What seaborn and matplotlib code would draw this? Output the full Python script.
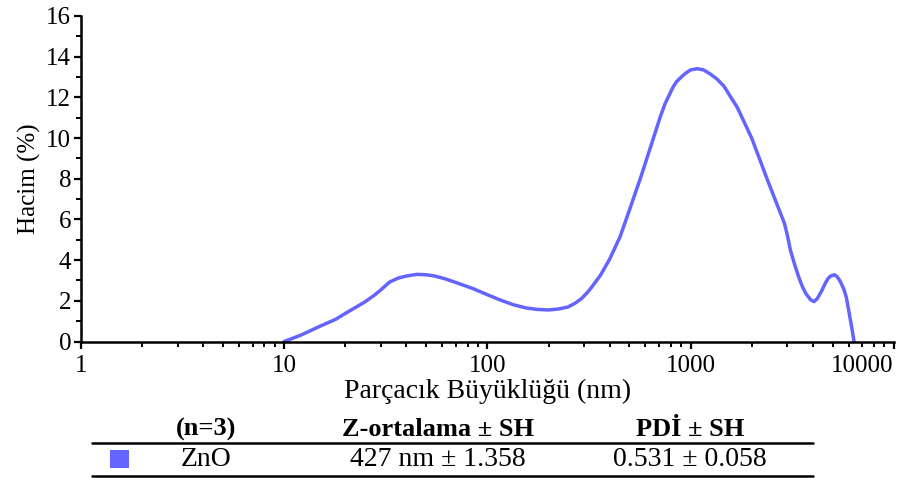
import matplotlib
matplotlib.use("Agg")
import matplotlib.pyplot as plt
from matplotlib.lines import Line2D
from matplotlib.patches import Rectangle
from matplotlib.ticker import LogLocator, FixedLocator, MultipleLocator
import numpy as np
import pandas as pd
import seaborn as sns

# Particle size distribution by volume (ZnO, n=3)
size_nm = [10, 12, 15, 18, 20, 25, 28, 30, 33, 36.5, 40, 45, 50, 55, 62, 70,
           85, 100, 115, 135, 155, 175, 200, 225, 250, 270, 290, 310, 325,
           360, 400, 450, 500, 570, 640, 710, 750, 780, 820, 850, 900, 950,
           1000, 1080, 1160, 1250, 1350, 1460, 1700, 2000, 2400, 2650, 2900,
           3000, 3100, 3250, 3400, 3550, 3700, 3900, 4050, 4200, 4400, 4600,
           4750, 4900, 5100, 5250, 5400, 5550, 5700, 5850, 6000, 6200, 6380]
volume_pct = [0.0, 0.3, 0.75, 1.1, 1.38, 1.95, 2.3, 2.55, 2.92, 3.12, 3.22,
              3.3, 3.28, 3.22, 3.08, 2.9, 2.6, 2.3, 2.05, 1.8, 1.65, 1.58,
              1.55, 1.6, 1.7, 1.88, 2.1, 2.4, 2.65, 3.25, 4.05, 5.15, 6.45,
              8.1, 9.65, 11.05, 11.7, 12.05, 12.5, 12.75, 13.0, 13.2, 13.35,
              13.41, 13.35, 13.15, 12.9, 12.55, 11.5, 10.0, 7.9, 6.8, 5.8, 5.2,
              4.5, 3.8, 3.2, 2.7, 2.35, 2.05, 1.96, 2.1, 2.45, 2.85, 3.1, 3.22,
              3.28, 3.2, 3.03, 2.8, 2.54, 2.15, 1.55, 0.75, 0.0]

x_ticks = [1, 10, 100, 1000, 10000]
x_tick_labels = ["1", "10", "100", "1000", "10000"]
y_ticks = [0, 2, 4, 6, 8, 10, 12, 14, 16]

table_header = ["(n=3)", "Z-ortalama ± SH", "PDİ ± SH"]
table_row = ["ZnO", "427 nm ± 1.358", "0.531 ± 0.058"]

line_color = "#6464FF"

sns.set_theme(style="ticks")
plt.rcParams["font.family"] = ["Liberation Serif", "DejaVu Serif"]

df = pd.DataFrame({"size": size_nm, "volume": volume_pct})

W, H = 901, 478
fig = plt.figure(figsize=(W / 100, H / 100), dpi=100)
ax = fig.add_axes([81 / W, 1 - 341.5 / H, (893.7 - 81) / W, (341.5 - 16) / H])

sns.lineplot(data=df, x="size", y="volume", ax=ax, color=line_color,
             linewidth=2.5, legend=False, sort=False)
for ln in ax.get_lines():
    ln.set_solid_joinstyle("round")
    ln.set_solid_capstyle("round")

ax.set_xscale("log")
ax.set_xlim(1, 10000)
ax.set_ylim(0, 16)

ax.xaxis.set_major_locator(FixedLocator(x_ticks))
ax.xaxis.set_minor_locator(LogLocator(base=10, subs=np.arange(2, 10)))
ax.set_xticks(x_ticks)
ax.set_xticklabels(x_tick_labels)
ax.set_yticks(y_ticks)
ax.yaxis.set_minor_locator(MultipleLocator(1))

for lbl in ax.get_xticklabels():
    if lbl.get_text() == "10000":
        lbl.set_horizontalalignment("right")

ax.tick_params(axis="x", which="major", pad=5)
ax.tick_params(axis="y", which="major", pad=2)
ax.tick_params(axis="both", which="major", direction="out", length=5,
               width=1.6, colors="black", labelsize=18)
ax.tick_params(axis="both", which="minor", direction="out", length=3.5,
               width=1.4, colors="black")

for side in ("top", "right"):
    ax.spines[side].set_visible(False)
for side in ("left", "bottom"):
    ax.spines[side].set_linewidth(1.8)
    ax.spines[side].set_color("black")

ax.set_xlabel("Parçacık Büyüklüğü (nm)", fontsize=20, labelpad=1, color="black")
ax.set_ylabel("Hacim (%)", fontsize=18, labelpad=4, color="black")
ax.set_facecolor("white")
fig.patch.set_facecolor("white")

# Summary table under the chart
def fy(py):
    return 1 - py / H

def fx(px):
    return px / W

col_x = [206, 438, 690]
for cx, txt in zip(col_x, table_header):
    fig.text(fx(cx), fy(429), txt, ha="center", va="center",
             fontsize=19, fontweight="bold", color="black")
for cx, txt in zip(col_x, table_row):
    fig.text(fx(cx), fy(459), txt, ha="center", va="center",
             fontsize=20, color="black")

for py in (442.5, 475.5):
    fig.add_artist(Line2D([fx(92), fx(813)], [fy(py), fy(py)],
                          transform=fig.transFigure, color="black",
                          linewidth=1.8))

fig.add_artist(Rectangle((fx(110), fy(467.5)), 19 / W, 18 / H,
                         transform=fig.transFigure, facecolor=line_color,
                         edgecolor="none"))

fig.savefig("out.png", dpi=100, facecolor="white")
